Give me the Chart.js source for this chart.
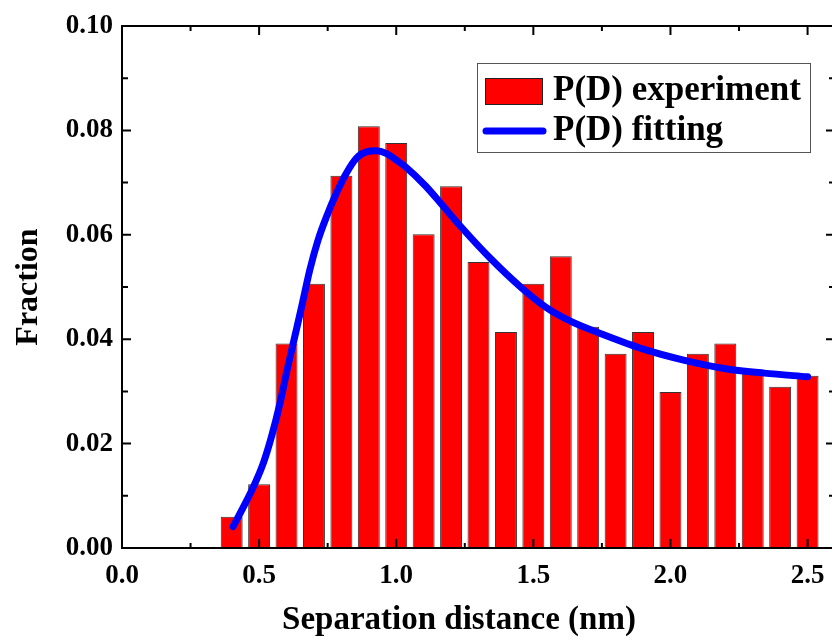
<!DOCTYPE html>
<html>
<head>
<meta charset="utf-8">
<script src="https://cdn.jsdelivr.net/npm/chart.js@4"></script>
<style>
  html, body { margin: 0; padding: 0; background: #fff; overflow: hidden; }
  #wrap { width: 832px; height: 639px; overflow: hidden; }
</style>
</head>
<body>
<div id="wrap"><canvas id="histChart" width="845" height="639"></canvas></div>
<script>
// histogram bins (nm) and measured fractions
const binCenters = [0.4, 0.5, 0.6, 0.7, 0.8, 0.9, 1.0, 1.1, 1.2, 1.3, 1.4, 1.5, 1.6, 1.7, 1.8, 1.9, 2.0, 2.1, 2.2, 2.3, 2.4, 2.5];
const fractions = [0.0060, 0.0122, 0.0392, 0.0506, 0.0713, 0.0808, 0.0776, 0.0601, 0.0693, 0.0548, 0.0414,
                   0.0506, 0.0559, 0.0424, 0.0372, 0.0414, 0.0299, 0.0372, 0.0392, 0.0338, 0.0309, 0.0330];

// fitted curve
const fitX = [0.405, 0.45, 0.48, 0.515, 0.545, 0.576, 0.602, 0.63, 0.655, 0.685, 0.715, 0.746, 0.782, 0.818, 0.855,
              0.891, 0.927, 0.963, 1.006, 1.034, 1.108, 1.166, 1.24, 1.343, 1.46, 1.549, 1.637, 1.754, 1.901, 2.048,
              2.195, 2.342, 2.50];
const fitY = [0.0041, 0.0086, 0.0118, 0.0162, 0.0213, 0.0277, 0.0341, 0.0405, 0.0462, 0.0533, 0.0590, 0.0635, 0.0680, 0.0718, 0.0747,
              0.0759, 0.0761, 0.0756, 0.0741, 0.0730, 0.0693, 0.0658, 0.0613, 0.0555, 0.0497, 0.0460, 0.0434, 0.0409, 0.0381, 0.0360,
              0.0344, 0.0335, 0.0328];

const xTicks = [0, 0.5, 1.0, 1.5, 2.0, 2.5];
const yTicks = [0, 0.02, 0.04, 0.06, 0.08, 0.10];
const seriesNames = ["P(D) experiment", "P(D) fitting"];
const xTitle = "Separation distance (nm)";
const yTitle = "Fraction";

const serif = "'Liberation Serif', 'Times New Roman', serif";

// frame, inward ticks, x title and legend box
const framePlugin = {
  id: "frame",
  afterDatasetsDraw(chart) {
    const { ctx, chartArea: a, scales: { x, y } } = chart;
    ctx.save();
    ctx.strokeStyle = "#000";
    ctx.lineWidth = 2;
    ctx.strokeRect(a.left, a.top, a.right - a.left, a.bottom - a.top);

    ctx.beginPath();
    xTicks.forEach(v => {
      const px = x.getPixelForValue(v);
      ctx.moveTo(px, a.bottom); ctx.lineTo(px, a.bottom - 9);
      ctx.moveTo(px, a.top); ctx.lineTo(px, a.top + 9);
      const mid = v + 0.25;
      if (mid < x.max) {
        const pm = x.getPixelForValue(mid);
        ctx.moveTo(pm, a.bottom); ctx.lineTo(pm, a.bottom - 5);
        ctx.moveTo(pm, a.top); ctx.lineTo(pm, a.top + 5);
      }
    });
    yTicks.forEach(v => {
      const py = y.getPixelForValue(v);
      ctx.moveTo(a.left, py); ctx.lineTo(a.left + 9, py);
      ctx.moveTo(a.right, py); ctx.lineTo(a.right - 9, py);
      const mid = v + 0.01;
      if (mid < y.max) {
        const pm = y.getPixelForValue(mid);
        ctx.moveTo(a.left, pm); ctx.lineTo(a.left + 6, pm);
        ctx.moveTo(a.right, pm); ctx.lineTo(a.right - 6, pm);
      }
    });
    ctx.stroke();
    ctx.restore();
  },
  afterDraw(chart) {
    const ctx = chart.ctx;
    const fit = chart.data.datasets[0];
    const bar = chart.data.datasets[1];
    ctx.save();
    // x axis title (sits a little left of the axis centre in the original)
    ctx.fillStyle = "#000";
    ctx.font = "bold 33px " + serif;
    ctx.textAlign = "center";
    ctx.textBaseline = "alphabetic";
    ctx.fillText(xTitle, 459, 629);

    // legend box
    ctx.textAlign = "left";
    ctx.strokeStyle = "#555";
    ctx.lineWidth = 1;
    ctx.strokeRect(477.5, 63.5, 333, 89);
    ctx.fillStyle = bar.backgroundColor;
    ctx.fillRect(485, 78, 58, 27);
    ctx.strokeStyle = "#222";
    ctx.strokeRect(485.5, 78.5, 57, 26);
    ctx.strokeStyle = fit.borderColor;
    ctx.lineWidth = 7;
    ctx.lineCap = "round";
    ctx.beginPath();
    ctx.moveTo(486, 131);
    ctx.lineTo(543, 131);
    ctx.stroke();
    ctx.fillStyle = "#000";
    ctx.font = "bold 35px " + serif;
    ctx.textBaseline = "middle";
    ctx.fillText(bar.label, 553, 91);
    ctx.fillText(fit.label, 553, 131);
    ctx.restore();
  }
};

new Chart(document.getElementById("histChart"), {
  type: "bar",
  data: {
    datasets: [
      {
        type: "line",
        label: seriesNames[1],
        data: fitX.map((v, i) => ({ x: v, y: fitY[i] })),
        borderColor: "#0000ff",
        borderWidth: 7,
        borderCapStyle: "round",
        borderJoinStyle: "round",
        pointRadius: 0,
        cubicInterpolationMode: "monotone",
        fill: false,
        order: 0
      },
      {
        type: "bar",
        label: seriesNames[0],
        data: binCenters.map((v, i) => ({ x: v, y: fractions[i] })),
        backgroundColor: "#ff0000",
        borderColor: "#333",
        borderWidth: 1,
        barPercentage: 1.0,
        categoryPercentage: 0.8,
        order: 1
      }
    ]
  },
  options: {
    responsive: false,
    animation: false,
    layout: { padding: { top: 26, right: 10, bottom: 0, left: 0 } },
    plugins: {
      legend: { display: false },
      tooltip: { enabled: false }
    },
    scales: {
      x: {
        type: "linear",
        min: 0,
        max: 2.6,
        offset: false,
        grid: { display: false, drawTicks: false },
        border: { display: false },
        afterBuildTicks: s => { s.ticks = xTicks.map(v => ({ value: v })); },
        afterFit: s => { s.height = 91; },
        ticks: {
          color: "#000",
          padding: 12,
          maxRotation: 0,
          font: { family: serif, size: 27, weight: "bold" },
          callback: v => Number(v).toFixed(1)
        },
        title: { display: false }
      },
      y: {
        min: 0,
        max: 0.1,
        grid: { display: false, drawTicks: false },
        border: { display: false },
        afterBuildTicks: s => { s.ticks = yTicks.map(v => ({ value: v })); },
        afterFit: s => { s.width = 122; },
        ticks: {
          color: "#000",
          padding: 9,
          font: { family: serif, size: 27, weight: "bold" },
          callback: v => Number(v).toFixed(2)
        },
        title: {
          display: true,
          text: yTitle,
          color: "#000",
          padding: { top: 10, bottom: 0 },
          font: { family: serif, size: 32, weight: "bold" }
        }
      }
    }
  },
  plugins: [framePlugin]
});
</script>
</body>
</html>
